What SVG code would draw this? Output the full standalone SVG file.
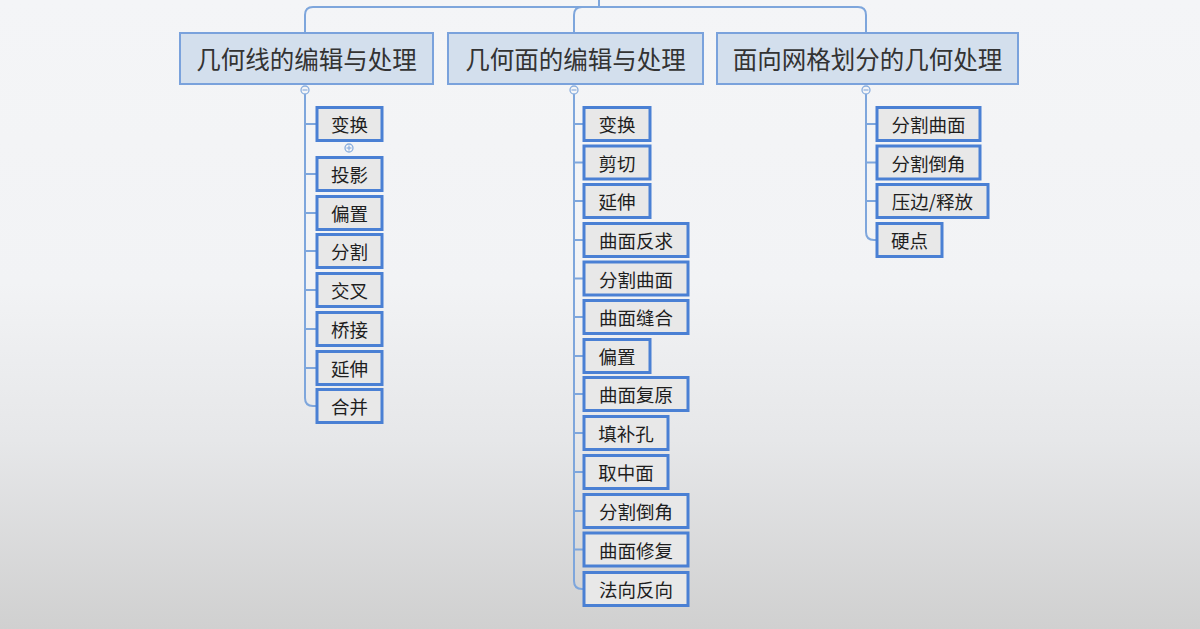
<svg xmlns="http://www.w3.org/2000/svg" width="1200" height="629" viewBox="0 0 1200 629">
<defs>
<linearGradient id="bg" x1="0" y1="0" x2="0" y2="1">
<stop offset="0" stop-color="#f4f5f7"/>
<stop offset="0.45" stop-color="#f2f3f5"/>
<stop offset="0.7" stop-color="#e6e7e9"/>
<stop offset="1" stop-color="#d0d0d0"/>
</linearGradient>
<style>
.main rect{fill:#d3dfed;stroke:#7aa2dc;stroke-width:2}
.main text{font-family:"Noto Sans CJK SC","Microsoft YaHei",sans-serif;font-size:24.5px;fill:#333;text-anchor:middle;dominant-baseline:central}
.child rect{fill:#e8e8e8;stroke:#4a80d4;stroke-width:3}
.child text{font-family:"Noto Sans CJK SC","Microsoft YaHei",sans-serif;font-size:18.5px;fill:#1e1e1e;text-anchor:middle;dominant-baseline:central}
.conn path,.conn line{fill:none;stroke:#7ea6dc;stroke-width:2}
.tog circle{fill:#f4f5f7;stroke:#8aaede;stroke-width:1.3}
.tog line{stroke:#8aaede;stroke-width:1.2}
</style>
</defs>
<rect width="1200" height="629" fill="url(#bg)"/>
<g id="connectors" class="conn">
<path d="M599 0 V7"/>
<path d="M305 33 V15 Q305 7 313 7 H858 Q866 7 866 15 V33"/>
<path d="M574 33 V15 Q574 7 582 7"/>
<path d="M305 94 V398 Q305 406 313 406 H317"/>
<path d="M305 124 H317 M305 174 H317 M305 213 H317 M305 251 H317 M305 290 H317 M305 329 H317 M305 368 H317"/>
<path d="M574 94 V581 Q574 589 582 589 H584"/>
<path d="M574 124 H584 M574 162.5 H584 M574 201 H584 M574 240 H584 M574 278.5 H584 M574 317 H584 M574 356 H584 M574 394 H584 M574 433 H584 M574 472 H584 M574 511 H584 M574 549.5 H584"/>
<path d="M866 94 V232 Q866 240 874 240 H877"/>
<path d="M866 124 H877 M866 162.5 H877 M866 201 H877"/>
</g>
<g id="toggles" class="tog">
<circle cx="305" cy="90" r="4"/><line x1="302.5" y1="90" x2="307.5" y2="90"/>
<circle cx="574" cy="90" r="4"/><line x1="571.5" y1="90" x2="576.5" y2="90"/>
<circle cx="866" cy="90" r="4"/><line x1="863.5" y1="90" x2="868.5" y2="90"/>
<circle cx="349" cy="148" r="4"/><line x1="346.5" y1="148" x2="351.5" y2="148"/><line x1="349" y1="145.5" x2="349" y2="150.5"/>
</g>
<g id="n-line" class="main"><rect x="180" y="33" width="253" height="51"/><text x="306.5" y="58.5">几何线的编辑与处理</text></g>
<g id="n-surface" class="main"><rect x="448" y="33" width="255" height="51"/><text x="575.5" y="58.5">几何面的编辑与处理</text></g>
<g id="n-mesh" class="main"><rect x="717" y="33" width="301" height="51"/><text x="867.5" y="58.5">面向网格划分的几何处理</text></g>

<g id="l1" class="child"><rect x="317" y="107.5" width="65" height="33"/><text x="349.5" y="124">变换</text></g>
<g id="l2" class="child"><rect x="317" y="157.5" width="65" height="33"/><text x="349.5" y="174">投影</text></g>
<g id="l3" class="child"><rect x="317" y="196.5" width="65" height="33"/><text x="349.5" y="213">偏置</text></g>
<g id="l4" class="child"><rect x="317" y="234.5" width="65" height="33"/><text x="349.5" y="251">分割</text></g>
<g id="l5" class="child"><rect x="317" y="273.5" width="65" height="33"/><text x="349.5" y="290">交叉</text></g>
<g id="l6" class="child"><rect x="317" y="312.5" width="65" height="33"/><text x="349.5" y="329">桥接</text></g>
<g id="l7" class="child"><rect x="317" y="351.5" width="65" height="33"/><text x="349.5" y="368">延伸</text></g>
<g id="l8" class="child"><rect x="317" y="389.5" width="65" height="33"/><text x="349.5" y="406">合并</text></g>

<g id="m1" class="child"><rect x="584" y="107.5" width="66" height="33"/><text x="617" y="124">变换</text></g>
<g id="m2" class="child"><rect x="584" y="146" width="66" height="33"/><text x="617" y="162.5">剪切</text></g>
<g id="m3" class="child"><rect x="584" y="184.5" width="66" height="33"/><text x="617" y="201">延伸</text></g>
<g id="m4" class="child"><rect x="584" y="223.5" width="104" height="33"/><text x="636" y="240">曲面反求</text></g>
<g id="m5" class="child"><rect x="584" y="262" width="104" height="33"/><text x="636" y="278.5">分割曲面</text></g>
<g id="m6" class="child"><rect x="584" y="300.5" width="104" height="33"/><text x="636" y="317">曲面缝合</text></g>
<g id="m7" class="child"><rect x="584" y="339.5" width="66" height="33"/><text x="617" y="356">偏置</text></g>
<g id="m8" class="child"><rect x="584" y="377.5" width="104" height="33"/><text x="636" y="394">曲面复原</text></g>
<g id="m9" class="child"><rect x="584" y="416.5" width="84" height="33"/><text x="626" y="433">填补孔</text></g>
<g id="m10" class="child"><rect x="584" y="455.5" width="84" height="33"/><text x="626" y="472">取中面</text></g>
<g id="m11" class="child"><rect x="584" y="494.5" width="104" height="33"/><text x="636" y="511">分割倒角</text></g>
<g id="m12" class="child"><rect x="584" y="533" width="104" height="33"/><text x="636" y="549.5">曲面修复</text></g>
<g id="m13" class="child"><rect x="584" y="572.5" width="104" height="33"/><text x="636" y="589">法向反向</text></g>

<g id="r1" class="child"><rect x="877" y="107.5" width="103" height="33"/><text x="928.5" y="124">分割曲面</text></g>
<g id="r2" class="child"><rect x="877" y="146" width="103" height="33"/><text x="928.5" y="162.5">分割倒角</text></g>
<g id="r3" class="child"><rect x="877" y="184.5" width="111" height="33"/><text x="932.5" y="201">压边/释放</text></g>
<g id="r4" class="child"><rect x="877" y="223.5" width="65" height="33"/><text x="909.5" y="240">硬点</text></g>
</svg>
